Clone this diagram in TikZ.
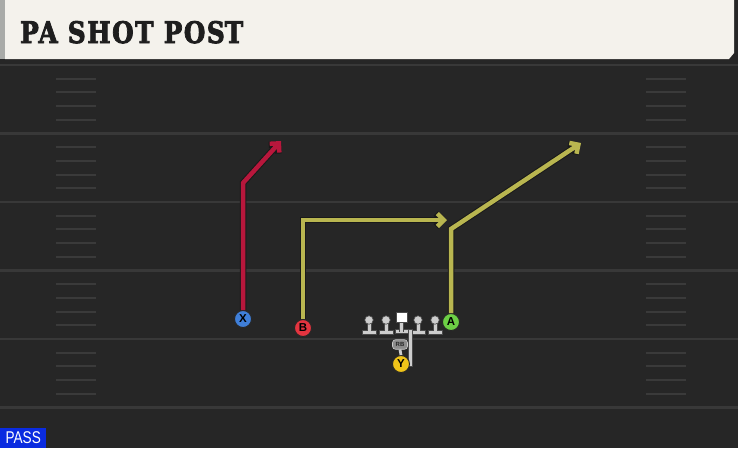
\documentclass[tikz,border=0pt]{standalone}
\usepackage{fontspec}
\usetikzlibrary{arrows.meta}
\newfontfamily\titlefont{DejaVu Serif}[BoldFeatures={FakeBold=3}, LetterSpace=6]
\newfontfamily\labelfont{Liberation Sans}
\definecolor{fieldbg}{HTML}{262626}
\definecolor{hdrbg}{HTML}{F4F2EC}
\definecolor{hdrside}{HTML}{A9ABA8}
\definecolor{yardline}{HTML}{383838}
\definecolor{hashline}{HTML}{3A3A3A}
\definecolor{routered}{HTML}{B8173C}
\definecolor{routeyel}{HTML}{B9B650}
\definecolor{xblue}{HTML}{3F7FD9}
\definecolor{bred}{HTML}{E4343F}
\definecolor{agreen}{HTML}{6CCF45}
\definecolor{yyel}{HTML}{F0C419}
\definecolor{olfill}{HTML}{CDCDCD}
\definecolor{olline}{HTML}{4A4A4A}
\definecolor{passblue}{HTML}{0A2BE0}
\definecolor{titleink}{HTML}{1E1E1E}
\tikzset{
  route/.style={line width=4.5pt, line join=miter, line cap=butt,
    -{Straight Barb[length=6.5pt,width=13pt]},
    preaction={draw=black!90, line width=6.5pt}},
  player/.style={circle, minimum size=17pt, inner sep=0pt, draw=black!85, line width=0.9pt,
    font=\labelfont\bfseries\fontsize{11.5}{11.5}\selectfont, text=black},
  yard/.style={draw=yardline, line width=2.5pt},
  hash/.style={draw=hashline, line width=2pt},
  olbody/.style={fill=olfill, draw=olline, line width=0.6pt},
  lineman/.pic={
    \path[olbody] (-1.8,0) rectangle (1.8,11);
    \path[olbody] (-7,10) rectangle (7,14.5);
    \fill[olfill] (-1.5,9) rectangle (1.5,10.7);
    \node[circle, minimum size=8.5pt, inner sep=0pt, olbody] at (0,0) {};
  },
}
\begin{document}
\begin{tikzpicture}[x=1pt,y=-1pt]
\useasboundingbox (0,0) rectangle (738,448);
% background
\fill[fieldbg] (0,0) rectangle (738,448);
\fill[black!85] (0,59) rectangle (738,62);
% yard lines
\foreach \y in {65,133.5,202,270.5,339,407.5} {
  \draw[yard] (0,\y) -- (738,\y);
}
% hash marks
\foreach \y in {65,133.5,202,270.5,339} {
  \foreach \k in {1,2,3,4} {
    \draw[hash] (56,\y+13.7*\k) -- (96,\y+13.7*\k);
    \draw[hash] (646,\y+13.7*\k) -- (686,\y+13.7*\k);
  }
}
% header
\fill[hdrside] (0,0) rectangle (5,59);
\fill[hdrbg] (5,0) -- (734,0) -- (734,53) -- (729,59) -- (5,59) -- cycle;
\node[anchor=base west, inner sep=0pt, text=titleink] (title) at (20,43)
  {\resizebox{223pt}{22pt}{\titlefont\bfseries PA SHOT POS\kern0ptT}};
% PASS tag
\node[fill=passblue, anchor=south west, minimum width=46pt, minimum height=20pt, inner sep=0pt,
  text=white, font=\labelfont\fontsize{17}{17}\selectfont] (pass) at (0,448)
  {\scalebox{0.8}[1]{PASS}};
% coordinates
\coordinate (xc) at (243,183);
\coordinate (xt) at (281,141);
\coordinate (bc) at (303,220);
\coordinate (bt) at (447,220);
\coordinate (ac) at (451,229);
\coordinate (at) at (581,143);
% players
\node[player, fill=xblue] (X) at (243,319) {X};
\node[player, fill=bred] (B) at (303,328) {B};
\node[player, fill=agreen] (A) at (451,322) {A};
% routes
\draw[route, draw=routered] (X.north) -- (xc) -- (xt);
\draw[route, draw=routeyel] (B.north) -- (bc) -- (bt);
\draw[route, draw=routeyel] (A.north) -- (ac) -- (at);
% offensive line
\pic at (369,320) {lineman};
\pic at (386,320) {lineman};
\pic at (418,320) {lineman};
\pic at (435,320) {lineman};
% center / QB path
\path[olbody] (395,329.5) rectangle (412,333.5);
\path[olbody] (408.3,329.5) rectangle (412,366);
\fill[olfill] (408.8,329.9) rectangle (411.5,333.1);
\path[olbody] (399.7,321) rectangle (403.3,331);
\fill[olfill] (400.1,329.9) rectangle (402.9,333.1);
\node[rectangle, fill=white, draw=olline, line width=0.6pt, minimum width=11pt, minimum height=10pt, inner sep=0pt] (C) at (401.5,317.5) {};
% running back and Y
\node[player, fill=yyel] (Y) at (401,364) {Y};
\node[rectangle, rounded corners=3pt, fill=black!45, draw=black!20, line width=0.6pt,
  minimum width=15pt, minimum height=9.5pt, inner sep=0pt, text=black!85,
  font=\labelfont\bfseries\fontsize{6}{6}\selectfont] (RB) at (400,344.5) {RB};
\draw[draw=olfill, line width=2.8pt] (RB.south) -- (Y.north);
\end{tikzpicture}
\end{document}
